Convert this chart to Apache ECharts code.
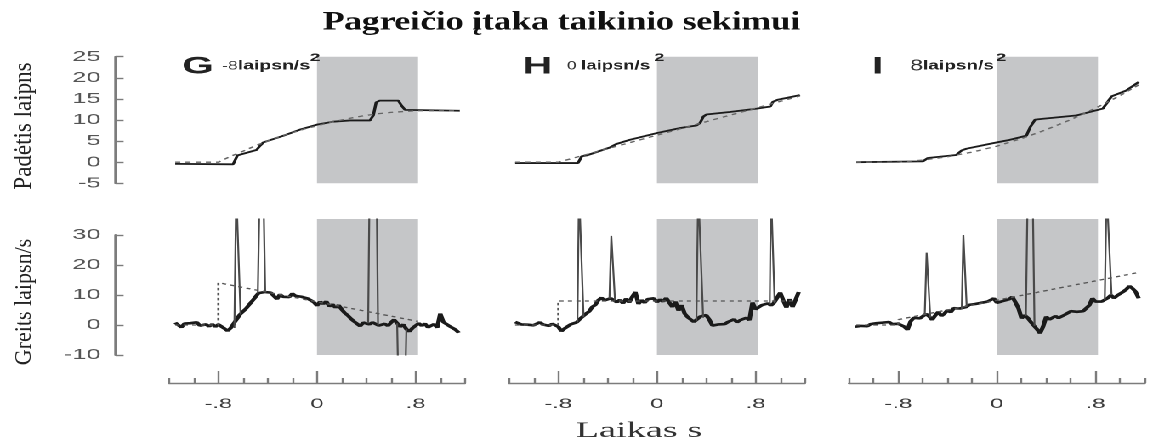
<!DOCTYPE html>
<html>
<head>
<meta charset="utf-8">
<script src="https://cdn.jsdelivr.net/npm/echarts@6/dist/echarts.min.js"></script>
<style>
  html, body { margin: 0; padding: 0; background: #fff; overflow: hidden; }
  #wrap { width: 1153px; height: 443px; overflow: hidden; }
  /* the figure is laid out on a narrower canvas and widened horizontally */
  #chart { width: 678px; height: 443px; transform: scaleX(1.70059); transform-origin: 0 0; }
</style>
</head>
<body>
<div id="wrap"><div id="chart"></div></div>
<script>
// ---------- data ----------
const panelLetters = ['G', 'H', 'I'];
const panelUnits = ['{n|-8}{u|laipsn/s}', '{n|0 }{u|laipsn/s}', '{b|8}{u|laipsn/s}'];
const titleText = 'Pagreičio įtaka taikinio sekimui';
const posAxisName = 'Padėtis laipns';
const velAxisName = 'Greits laipsn/s';
const timeAxisName = 'Laikas s';

const timeRange = [-1.2, 1.2];
const shadeWindow = [0, 0.82];
const majorTicks = [-0.8, 0, 0.8];
const majorTickLabels = ['-.8', '0', '.8'];
const minorTicks = [-1.2, -1.0, -0.6, -0.4, -0.2, 0.2, 0.4, 0.6, 1.0, 1.2];
const posRange = [-5, 25];
const velRange = [-10, 35.33];
const velAxisRange = [-10, 30];

// eye position (deg)
const posTimeG = [-1.15, -0.68, -0.646, -0.624, -0.49, -0.462, -0.435, -0.27, -0.14, 0, 0.13, 0.27, 0.43, 0.457, 0.48, 0.51, 0.66, 0.686, 0.714, 1.16];
const posG = [-0.4, -0.5, 1.6, 2.0, 2.9, 3.9, 4.7, 6.3, 7.7, 8.9, 9.6, 9.9, 9.9, 11.1, 14.2, 14.6, 14.6, 13.4, 12.4, 12.2];
const posTimeH = [-1.15, -0.64, -0.61, -0.57, -0.38, -0.354, -0.33, -0.22, 0, 0.19, 0.32, 0.35, 0.376, 0.40, 0.59, 0.81, 0.92, 0.94, 0.98, 1.16];
const posH = [-0.2, -0.2, 1.4, 1.6, 3.5, 3.9, 4.3, 5.3, 6.9, 8.1, 8.7, 9.3, 10.8, 11.3, 11.9, 12.7, 13.2, 14.3, 14.8, 15.9];
const posTimeI = [-1.14, -0.6, -0.56, -0.33, -0.285, -0.246, 0, 0.105, 0.24, 0.27, 0.31, 0.376, 0.65, 0.86, 0.88, 0.93, 1.05, 1.15];
const posI = [0, 0.2, 1.0, 1.7, 2.8, 3.2, 4.7, 5.3, 6.3, 8.3, 10.1, 10.3, 11.1, 12.7, 13.0, 15.6, 17.0, 19.0];

// target position (deg)
const tgtPosTimeG = [-1.15, -0.8, -0.7, -0.6, -0.5, -0.4, -0.3, -0.2, -0.1, 0, 0.1, 0.2, 0.3, 0.4, 0.5, 0.6, 0.7, 0.8, 1.16];
const tgtPosG = [0, 0, 1.4, 2.6, 3.9, 5.0, 6.1, 7.0, 7.9, 8.6, 9.4, 10.0, 10.6, 11.1, 11.5, 11.8, 12.0, 12.2, 12.2];
const tgtPosTimeH = [-1.15, -0.8, -0.4, 0, 0.4, 0.8, 1.16];
const tgtPosH = [0, 0, 3.2, 6.4, 9.6, 12.8, 15.7];
const tgtPosTimeI = [-1.14, -0.8, -0.6, -0.4, -0.2, 0, 0.2, 0.4, 0.6, 0.8, 1.0, 1.16];
const tgtPosI = [0, 0, 0.5, 1.3, 2.4, 3.8, 5.6, 7.7, 10.1, 12.8, 15.8, 18.5];

// eye velocity sample times (s)
const velTime = [-1.15, -1.125, -1.1, -1.075, -1.05, -1.025, -1.0, -0.975, -0.95, -0.925,
  -0.9, -0.875, -0.85, -0.825, -0.8, -0.775, -0.75, -0.725, -0.7, -0.675,
  -0.65, -0.625, -0.6, -0.575, -0.55, -0.525, -0.5, -0.475, -0.45, -0.425,
  -0.4, -0.375, -0.35, -0.325, -0.3, -0.275, -0.25, -0.225, -0.2, -0.175,
  -0.15, -0.125, -0.1, -0.075, -0.05, -0.025, 0, 0.025, 0.05, 0.075,
  0.1, 0.125, 0.15, 0.175, 0.2, 0.225, 0.25, 0.275, 0.3, 0.325,
  0.35, 0.375, 0.4, 0.425, 0.45, 0.475, 0.5, 0.525, 0.55, 0.575,
  0.6, 0.625, 0.65, 0.675, 0.7, 0.725, 0.75, 0.775, 0.8, 0.825,
  0.85, 0.875, 0.9, 0.925, 0.95, 0.975, 1.0, 1.025, 1.05, 1.075,
  1.1, 1.125, 1.15];

// smooth pursuit eye velocity (deg/s)
const velG = [0.8, 0.2, -0.8, 0.5, 0.0, 0.6, 0.1, 0.9, -0.2, 0.4,
  0.2, -0.5, 0.3, -0.6, 0.2, -0.4, -1.2, -2.0, -1.0, 0.5,
  2.0, 3.5, 4.5, 5.5, 6.8, 8.0, 9.3, 10.6, 11.2, 11.0,
  11.3, 10.8, 11.2, 8.6, 10.2, 9.4, 10.0, 9.3, 10.5, 9.7,
  10.2, 9.4, 9.9, 8.8, 9.2, 7.6, 6.4, 7.8, 7.0, 7.9,
  6.2, 6.9, 5.8, 6.6, 5.2, 4.0, 3.2, 2.1, 1.2, 0.9,
  -0.4, 0.8, 1.2, 0.2, 0.9, 0.3, -0.2, -0.7, 0.4, -0.3,
  0.8, 1.8, 0.6, -0.6, 0.2, -1.4, -2.2, -1.0, -0.2, 0.6,
  -0.3, 0.5, -0.8, -0.2, 0.3, -0.9, 3.8, 1.0, 0.4, -0.4,
  -0.9, -1.6, -2.6];
const velH = [1.0, 0.8, 0.2, 0.5, 0.1, 0.6, -0.1, 0.4, 0.9, 0.2,
  0.6, -0.3, 0.4, 0.0, -0.6, -2.1, -1.2, -0.5, 0.2, 0.5,
  0.9, 2.0, 2.6, 3.8, 4.5, 6.0, 6.7, 8.3, 9.1, 8.2,
  8.6, 8.9, 8.4, 7.6, 8.4, 7.2, 8.8, 7.5, 9.4, 11.0,
  7.0, 8.3, 7.4, 8.6, 8.1, 8.9, 7.6, 8.5, 7.8, 9.0,
  8.4, 6.0, 7.8, 4.8, 6.6, 3.8, 2.6, 1.8, 1.0, 1.6,
  2.8, 2.4, 3.3, 1.8, -0.2, -0.8, 0.2, 0.7, 0.3, 1.0,
  1.4, 1.9, 0.9, 1.6, 1.1, 2.4, 1.6, 7.5, 5.2, 4.6,
  6.6, 6.2, 7.2, 6.5, 7.4, 7.0, 10.8, 8.2, 5.8, 8.6,
  6.0, 8.4, 11.0];
const velI = [-0.6, -0.9, -0.3, 0.1, -0.4, 0.3, 0.0, 0.6, 0.1, 0.8,
  0.4, 1.0, 0.3, 0.9, 0.4, 0.8, -0.6, -1.6, 1.2, 2.4,
  3.0, 2.2, 2.8, 3.7, 2.9, 1.7, 3.2, 4.4, 3.0, 3.8,
  5.0, 4.2, 5.6, 6.1, 5.5, 5.2, 6.0, 6.7, 6.2, 7.0,
  6.6, 7.4, 7.0, 7.8, 7.3, 8.9, 7.4, 7.2, 8.0, 7.8,
  8.6, 9.4, 7.6, 5.6, 2.2, 3.3, 2.4, 1.0, -0.2, -1.4,
  -2.8, -0.5, 2.8, 1.8, 2.2, 3.0, 2.3, 2.9, 3.4, 3.9,
  4.6, 4.0, 4.4, 3.9, 4.6, 5.0, 6.6, 8.9, 7.8, 8.4,
  7.8, 8.3, 9.0, 10.0, 8.9, 9.8, 10.4, 11.1, 11.9, 13.0,
  12.2, 11.1, 8.9];

// saccade velocity spikes [time, deg/s]
const spikesG = [
  [[-0.67, -1.0], [-0.655, 45], [-0.635, 45], [-0.62, 3.5]],
  [[-0.48, 10.5], [-0.465, 45], [-0.435, 45], [-0.42, 11.1]],
  [[0.415, 0.6], [0.43, 60], [0.48, 60], [0.495, -0.1]],
  [[0.65, 0.6], [0.665, -30], [0.71, -30], [0.725, -1.4]]
];
const spikesH = [
  [[-0.645, 0.9], [-0.632, 45], [-0.608, 45], [-0.595, 2.6]],
  [[-0.385, 8.8], [-0.37, 29.7], [-0.355, 29.7], [-0.34, 8.2]],
  [[0.32, 1.4], [0.335, 45], [0.36, 45], [0.375, 2.4]],
  [[0.915, 6.8], [0.925, 45], [0.945, 45], [0.955, 7.3]]
];
const spikesI = [
  [[-0.585, 3.4], [-0.57, 24.1], [-0.555, 24.1], [-0.54, 2.5]],
  [[-0.285, 5.3], [-0.272, 30], [-0.258, 30], [-0.245, 6.1]],
  [[0.235, 3.0], [0.25, 45], [0.29, 45], [0.305, -0.3]],
  [[0.875, 8.3], [0.89, 45], [0.915, 45], [0.93, 10.0]]
];

// target velocity (deg/s)
const tgtVelTimeG = [-1.15, -0.8, -0.8, 0.82];
const tgtVelG = [0, 0, 14.1, 1.2];
const tgtVelTimeH = [-1.15, -0.8, -0.8, 1.13];
const tgtVelH = [0, 0, 8, 8];
const tgtVelTimeI = [-1.14, -0.8, -0.8, 1.16];
const tgtVelI = [0, 0, 1.8, 17.6];

// ---------- layout (canvas px before horizontal widening) ----------
const FONT_SANS = '"Liberation Sans", Arial, sans-serif';
const FONT_SERIF = '"Liberation Serif", "Times New Roman", serif';
const panelLeft = [99.4, 299.3, 499.2];
const panelWidth = 174;
const topY = 56.7, topH = 126.6;
const botY = 219, botH = 136;
const axisX = 68.2;

const pairs = (xs, ys) => xs.map((x, i) => [x, ys[i]]);
const spikeData = groups => {
  const out = [];
  groups.forEach(g => { g.forEach(p => out.push(p)); out.push([g[g.length - 1][0], null]); });
  return out;
};

const panels = [
  { pos: pairs(posTimeG, posG), tgtPos: pairs(tgtPosTimeG, tgtPosG), vel: pairs(velTime, velG), tgtVel: pairs(tgtVelTimeG, tgtVelG), spikes: spikeData(spikesG) },
  { pos: pairs(posTimeH, posH), tgtPos: pairs(tgtPosTimeH, tgtPosH), vel: pairs(velTime, velH), tgtVel: pairs(tgtVelTimeH, tgtVelH), spikes: spikeData(spikesH) },
  { pos: pairs(posTimeI, posI), tgtPos: pairs(tgtPosTimeI, tgtPosI), vel: pairs(velTime, velI), tgtVel: pairs(tgtVelTimeI, tgtVelI), spikes: spikeData(spikesI) }
];

const AXIS_COLOR = '#7c7c7c';
const grids = [], xAxes = [], yAxes = [], series = [];

panels.forEach((p, k) => {
  // position grid (k) and velocity grid (k + 3)
  grids[k] = { left: panelLeft[k], top: topY, width: panelWidth, height: topH };
  grids[k + 3] = { left: panelLeft[k], top: botY, width: panelWidth, height: botH };

  xAxes[k] = { type: 'value', gridIndex: k, min: timeRange[0], max: timeRange[1], show: false };
  xAxes[k + 3] = {
    type: 'value', gridIndex: k + 3, min: timeRange[0], max: timeRange[1],
    position: 'bottom', offset: 28,
    axisLine: { show: true, onZero: false, lineStyle: { color: AXIS_COLOR, width: 1.4 } },
    axisTick: { show: true, inside: true, length: 12, customValues: majorTicks, lineStyle: { color: AXIS_COLOR, width: 1.2 } },
    axisLabel: {
      show: true, customValues: majorTicks, margin: 14,
      color: '#3a3a3a', fontSize: 14, fontFamily: FONT_SANS,
      formatter: v => majorTickLabels[majorTicks.findIndex(t => Math.abs(t - v) < 1e-9)] || ''
    },
    splitLine: { show: false }
  };
  xAxes[k + 6] = {
    type: 'value', gridIndex: k + 3, min: timeRange[0], max: timeRange[1],
    position: 'bottom', offset: 28,
    axisLine: { show: false, onZero: false },
    axisTick: { show: true, inside: true, length: 5, customValues: minorTicks, lineStyle: { color: AXIS_COLOR, width: 1.2 } },
    axisLabel: { show: false },
    splitLine: { show: false }
  };

  yAxes[k] = { type: 'value', gridIndex: k, min: posRange[0], max: posRange[1], show: false };
  yAxes[k + 3] = { type: 'value', gridIndex: k + 3, min: velRange[0], max: velRange[1], show: false };

  const shade = {
    silent: true,
    itemStyle: { color: '#c5c6c8' },
    data: [[{ xAxis: shadeWindow[0] }, { xAxis: shadeWindow[1] }]]
  };

  series.push({
    type: 'line', xAxisIndex: k, yAxisIndex: k, data: p.pos, symbol: 'none', z: 3,
    lineStyle: { color: '#1b1b1b', width: 1.8 }, markArea: shade
  });
  series.push({
    type: 'line', xAxisIndex: k, yAxisIndex: k, data: p.tgtPos, symbol: 'none', z: 4,
    lineStyle: { color: '#666', width: 1.3, type: [3, 3] }
  });
  series.push({
    type: 'line', xAxisIndex: k + 3, yAxisIndex: k + 3, data: p.vel, symbol: 'none', z: 3,
    lineStyle: { color: '#1a1a1a', width: 2.6 }, markArea: shade
  });
  series.push({
    type: 'line', xAxisIndex: k + 3, yAxisIndex: k + 3, data: p.spikes, symbol: 'none', z: 4,
    connectNulls: false, lineStyle: { color: '#4a4a4a', width: 1.1 }
  });
  series.push({
    type: 'line', xAxisIndex: k + 3, yAxisIndex: k + 3, data: p.tgtVel, symbol: 'none', z: 5,
    lineStyle: { color: '#555', width: 1.3, type: [2.5, 2.5] }
  });
});

// stand-alone grids carrying the two left-hand value axes
// (the velocity axis stops at 30 while its plot area runs higher)
const axisGrids = [
  { top: topY, height: topH, range: posRange, step: 5 },
  { top: 235, height: 120, range: velAxisRange, step: 10 }
];
axisGrids.forEach((a, i) => {
  const g = 6 + i, xi = 9 + i;
  grids[g] = { left: axisX, top: a.top, width: 20, height: a.height };
  xAxes[xi] = { type: 'value', gridIndex: g, min: 0, max: 1, show: false };
  yAxes[g] = {
    type: 'value', gridIndex: g, min: a.range[0], max: a.range[1], interval: a.step, position: 'left',
    axisLine: { show: true, onZero: false, lineStyle: { color: AXIS_COLOR, width: 1.6 } },
    axisTick: { show: true, inside: true, length: 4.5, lineStyle: { color: AXIS_COLOR, width: 1.4 } },
    axisLabel: { show: true, margin: 9, color: '#555', fontSize: 15, fontFamily: FONT_SANS },
    splitLine: { show: false }
  };
});

// text: title, panel letters, axis names
const letterX = [107, 307.5, 512.8];
const unitX = [130.5, 333.4, 535.1];
const unitScale = [0.877, 0.836, 0.862];
const supX = [182.3, 384.6, 585.6];
const graphic = [
  {
    type: 'text', x: 330.2, y: 23, scaleX: 0.8, silent: true, z: 10,
    style: { text: titleText, fontSize: 26, fontWeight: 'bold', fontFamily: FONT_SERIF, fill: '#111',
      align: 'center', verticalAlign: 'middle', textAlign: 'center', textVerticalAlign: 'middle' }
  },
  {
    type: 'text', x: 14.2, y: 126, rotation: Math.PI / 2, scaleY: 0.64, silent: true, z: 10,
    style: { text: posAxisName, fontSize: 23, fontFamily: FONT_SERIF, fill: '#222',
      align: 'center', verticalAlign: 'middle', textAlign: 'center', textVerticalAlign: 'middle' }
  },
  {
    type: 'text', x: 14.2, y: 302, rotation: Math.PI / 2, scaleY: 0.64, silent: true, z: 10,
    style: { text: velAxisName, fontSize: 22, fontFamily: FONT_SERIF, fill: '#222',
      align: 'center', verticalAlign: 'middle', textAlign: 'center', textVerticalAlign: 'middle' }
  },
  {
    type: 'text', x: 375.7, y: 431, silent: true, z: 10,
    style: { text: timeAxisName, fontSize: 22.5, fontFamily: FONT_SERIF, fill: '#333',
      align: 'center', verticalAlign: 'middle', textAlign: 'center', textVerticalAlign: 'middle' }
  }
];
panelLetters.forEach((L, k) => {
  graphic.push({
    type: 'text', x: letterX[k], y: 67, silent: true, z: 10,
    style: { text: L, fontSize: 24, fontWeight: 'bold', fontFamily: FONT_SANS, fill: '#222',
      align: 'left', verticalAlign: 'middle', textAlign: 'left', textVerticalAlign: 'middle' }
  });
  graphic.push({
    type: 'text', x: unitX[k], y: 66, scaleX: unitScale[k], silent: true, z: 10,
    style: {
      text: panelUnits[k], align: 'left', verticalAlign: 'middle', textAlign: 'left', textVerticalAlign: 'middle',
      rich: {
        n: { fontSize: 12, fontFamily: FONT_SANS, fill: '#333', color: '#333' },
        b: { fontSize: 16, fontFamily: FONT_SANS, fill: '#333', color: '#333' },
        u: { fontSize: 13, fontWeight: 'bold', fontFamily: FONT_SANS, fill: '#222', color: '#222' }
      }
    }
  });
  graphic.push({
    type: 'text', x: supX[k], y: 58, silent: true, z: 10,
    style: { text: '2', fontSize: 11, fontWeight: 'bold', fontFamily: FONT_SANS, fill: '#222',
      align: 'left', verticalAlign: 'middle', textAlign: 'left', textVerticalAlign: 'middle' }
  });
});

const chart = echarts.init(document.getElementById('chart'), null, { renderer: 'canvas', devicePixelRatio: 2 });
chart.setOption({
  animation: false,
  backgroundColor: '#ffffff',
  grid: grids,
  xAxis: xAxes,
  yAxis: yAxes,
  series: series,
  graphic: graphic
});

// axis spines: thin bars placed through each left axis' own scale, over its full extent
axisGrids.forEach((a, i) => {
  const finder = { xAxisIndex: 9 + i, yAxisIndex: 6 + i };
  const p0 = chart.convertToPixel(finder, [0, a.range[0]]);
  const p1 = chart.convertToPixel(finder, [0, a.range[1]]);
  if (!p0 || !p1) return;
  const top = Math.min(p0[1], p1[1]), bottom = Math.max(p0[1], p1[1]);
  graphic.push({
    type: 'rect', silent: true, z: 50, zlevel: 1,
    shape: { x: p0[0] - 0.8, y: top - 0.7, width: 1.6, height: bottom - top + 1.4 },
    style: { fill: AXIS_COLOR }
  });
});
chart.setOption({ graphic: graphic });
</script>
</body>
</html>
